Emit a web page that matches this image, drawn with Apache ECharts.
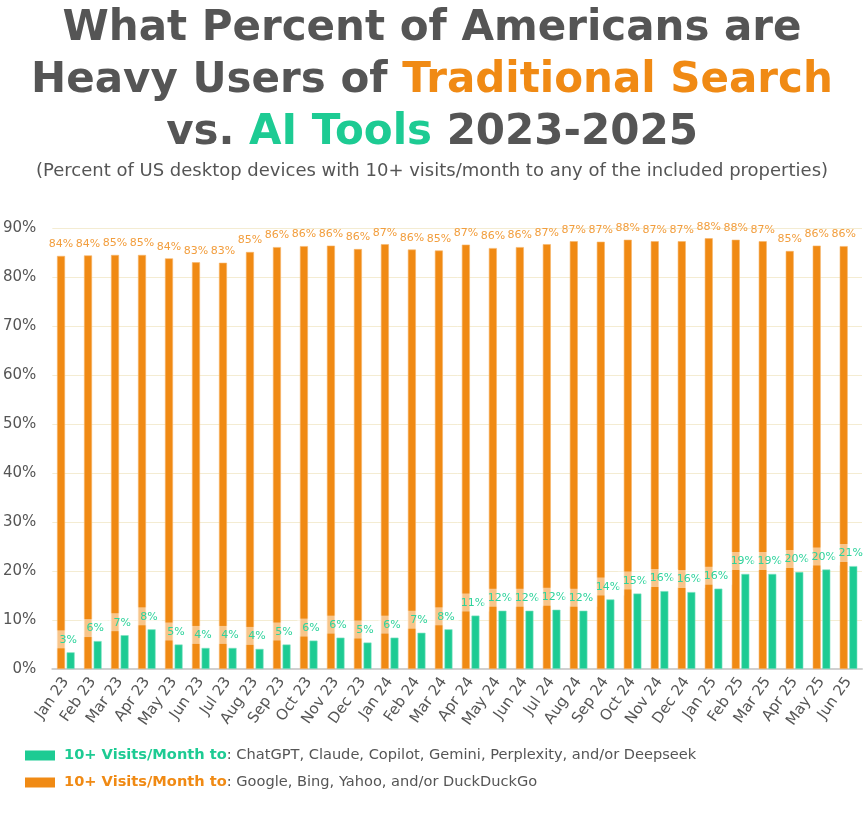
<!DOCTYPE html>
<html lang="en">
<head>
    <meta charset="UTF-8">
    <title>Traditional Search vs AI Tools</title>
    <script src="https://cdn.jsdelivr.net/npm/echarts@6.0.0/dist/echarts.min.js"></script>
    <style>
        html, body { margin: 0; padding: 0; background: #fff; }
        #main { width: 864px; height: 816px; }
    </style>
</head>
<body>
    <div id="main"></div>
    <script type="text/javascript">
        // months shown on the x axis
        const months = ['Jan 23', 'Feb 23', 'Mar 23', 'Apr 23', 'May 23', 'Jun 23', 'Jul 23', 'Aug 23', 'Sep 23', 'Oct 23', 'Nov 23', 'Dec 23',
            'Jan 24', 'Feb 24', 'Mar 24', 'Apr 24', 'May 24', 'Jun 24', 'Jul 24', 'Aug 24', 'Sep 24', 'Oct 24', 'Nov 24', 'Dec 24',
            'Jan 25', 'Feb 25', 'Mar 25', 'Apr 25', 'May 25', 'Jun 25'];
        // Google, Bing, Yahoo, DuckDuckGo
        const searchPct = [84.3, 84.4, 84.5, 84.5, 83.8, 83.0, 82.9, 85.1, 86.1, 86.3, 86.4, 85.7,
            86.7, 85.6, 85.4, 86.6, 85.9, 86.1, 86.7, 87.3, 87.2, 87.6, 87.3, 87.3,
            87.9, 87.6, 87.3, 85.3, 86.4, 86.3];
        // ChatGPT, Claude, Copilot, Gemini, Perplexity, Deepseek
        const aiPct = [3.4, 5.7, 6.9, 8.1, 5.0, 4.3, 4.3, 4.1, 5.0, 5.8, 6.4, 5.4,
            6.4, 7.4, 8.1, 10.9, 11.9, 11.9, 12.1, 11.9, 14.2, 15.4, 15.9, 15.7,
            16.4, 19.4, 19.4, 19.8, 20.3, 21.0];
        const yTicks = [0, 10, 20, 30, 40, 50, 60, 70, 80, 90];

        const ORANGE = '#F08A14';
        const GREEN = '#1DCB93';
        const GREY = '#555555';
        const FONT = 'DejaVu Sans';

        const aiName = 'AI tools';
        const searchName = 'Search';

        const chart = echarts.init(document.getElementById('main'));
        const option = {
            backgroundColor: '#ffffff',
            textStyle: { fontFamily: FONT },
            graphic: [
                {
                    type: 'text', left: 'center', top: 8,
                    style: { text: 'What Percent of Americans are', fontFamily: FONT, fontWeight: 'bold', fontSize: 42, fill: GREY }
                },
                {
                    type: 'text', left: 'center', top: 60,
                    style: {
                        text: '{g|Heavy Users of }{o|Traditional Search}',
                        rich: {
                            g: { fontFamily: FONT, fontWeight: 'bold', fontSize: 42, fill: GREY },
                            o: { fontFamily: FONT, fontWeight: 'bold', fontSize: 42, fill: ORANGE }
                        }
                    }
                },
                {
                    type: 'text', left: 'center', top: 112,
                    style: {
                        text: '{g|vs. }{a|AI Tools}{g| 2023-2025}',
                        rich: {
                            g: { fontFamily: FONT, fontWeight: 'bold', fontSize: 42, fill: GREY },
                            a: { fontFamily: FONT, fontWeight: 'bold', fontSize: 42, fill: GREEN }
                        }
                    }
                },
                {
                    type: 'text', left: 'center', top: 162,
                    style: { text: '(Percent of US desktop devices with 10+ visits/month to any of the included properties)', fontFamily: FONT, fontSize: 18, fill: GREY }
                }
            ],
            legend: {
                orient: 'vertical',
                left: 20,
                top: 743,
                itemWidth: 30,
                itemHeight: 10,
                itemGap: 12,
                data: [aiName, searchName],
                icon: 'rect',
                itemStyle: { borderWidth: 0 },
                formatter: function (name) {
                    if (name === aiName) {
                        return '{g|10+ Visits/Month to}{t|: ChatGPT, Claude, Copilot, Gemini, Perplexity, and/or Deepseek}';
                    }
                    return '{o|10+ Visits/Month to}{t|: Google, Bing, Yahoo, and/or DuckDuckGo}';
                },
                textStyle: {
                    padding: [0, 0, 0, 4],
                    rich: {
                        g: { fontFamily: FONT, fontWeight: 'bold', fontSize: 14.6, color: GREEN },
                        o: { fontFamily: FONT, fontWeight: 'bold', fontSize: 14.6, color: ORANGE },
                        t: { fontFamily: FONT, fontSize: 14.6, color: GREY }
                    }
                }
            },
            grid: {
                left: 52,
                right: 2,
                top: 228,
                bottom: 147
            },
            xAxis: {
                type: 'category',
                data: months,
                axisLine: { lineStyle: { color: '#d0d0d0', width: 2 } },
                axisTick: { show: false },
                axisLabel: { rotate: 55, color: GREY, fontSize: 15, margin: 10, interval: 0 }
            },
            yAxis: {
                type: 'value',
                min: yTicks[0],
                max: yTicks[yTicks.length - 1],
                interval: yTicks[1] - yTicks[0],
                axisLabel: { formatter: '{value}%', color: GREY, fontSize: 15, margin: 16 },
                axisLine: { show: false },
                axisTick: { show: false },
                splitLine: { lineStyle: { color: '#f4ecd2', width: 1 } }
            },
            series: [
                {
                    name: searchName,
                    type: 'bar',
                    data: searchPct,
                    barWidth: 8,
                    barGap: '20%',
                    itemStyle: { color: ORANGE, borderColor: '#F6B66A', borderWidth: 0.6 },
                    label: {
                        show: true,
                        position: 'top',
                        distance: 6,
                        color: '#F29E3E',
                        fontSize: 11,
                        formatter: p => Math.round(p.value) + '%'
                    }
                },
                {
                    name: aiName,
                    type: 'bar',
                    data: aiPct,
                    barWidth: 8,
                    itemStyle: { color: GREEN, borderColor: '#7FE3C2', borderWidth: 0.6 },
                    label: {
                        show: true,
                        position: 'top',
                        distance: 4,
                        offset: [-3, 0],
                        color: '#2ED39C',
                        fontSize: 11,
                        backgroundColor: 'rgba(255,255,255,0.5)',
                        padding: [4, 4, 3, 5],
                        formatter: p => Math.round(p.value) + '%'
                    }
                }
            ]
        };
        chart.setOption(option);
    </script>
</body>
</html>
